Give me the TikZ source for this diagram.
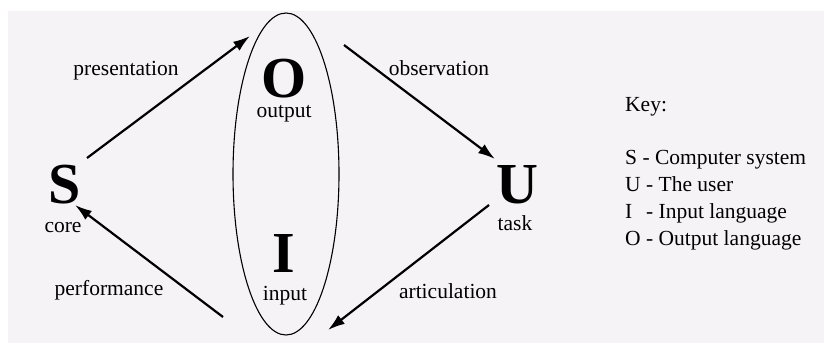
\documentclass[tikz,border=0pt]{standalone}
\usepackage{fontspec}
\setmainfont{Liberation Serif}
\usetikzlibrary{arrows.meta,shapes.geometric}
\definecolor{bgc}{RGB}{246,243,246}
\begin{document}
\begin{tikzpicture}[x=1pt,y=-1pt,
  big/.style={inner sep=0pt,anchor=base,font=\fontsize{58}{58}\selectfont\bfseries},
  lbl/.style={inner sep=0pt,anchor=base,font=\fontsize{21.5}{26}\selectfont},
  keyline/.style={inner sep=0pt,anchor=base west,font=\fontsize{21.5}{26}\selectfont},
  flow/.style={line width=2.2pt,-{Latex[length=17pt,width=11pt]}}]
\useasboundingbox (0,0) rectangle (824,343);
\fill[bgc] (8,11) rectangle (824,343);
% ellipse
\node[draw,line width=1.1pt,ellipse,minimum width=106pt,minimum height=322pt,inner sep=0pt] (E) at (286,174) {};
% big letters
\node[big] (S) at (65,203) {S};
\node[big] (U) at (517,203) {U};
\node[big] (O) at (284,97) {O};
\node[big] (I) at (284,272) {I};
% sub labels
\node[lbl] (core) at (63,232) {core};
\node[lbl] (task) at (515,230) {task};
\node[lbl] (output) at (284,117) {output};
\node[lbl] (input) at (285,300.5) {input};
% arrow labels
\node[lbl] (pres) at (126,75) {presentation};
\node[lbl] (obs) at (439,75) {observation};
\node[lbl] (perf) at (109,295.5) {performance};
\node[lbl] (art) at (448,298) {articulation};
% arrow ends
\coordinate (p1) at (87,158);
\coordinate (p2) at (250,36);
\coordinate (o1) at (344,45);
\coordinate (o2) at (495,159);
\coordinate (a1) at (489,205);
\coordinate (a2) at (328,330);
\coordinate (f1) at (223,317);
\coordinate (f2) at (75,205);
\draw[flow] (p1) -- (p2);
\draw[flow] (o1) -- (o2);
\draw[flow] (a1) -- (a2);
\draw[flow] (f1) -- (f2);
% key
\node[keyline] (k0) at (625,111) {Key:};
\node[keyline] (k1) at (625,164) {S - Computer system};
\node[keyline] (k2) at (625,191) {U - The user};
\node[keyline] (k3) at (625,218) {I\hspace{0.39em} - Input language};
\node[keyline] (k4) at (625,245) {O - Output language};
\end{tikzpicture}
\end{document}
